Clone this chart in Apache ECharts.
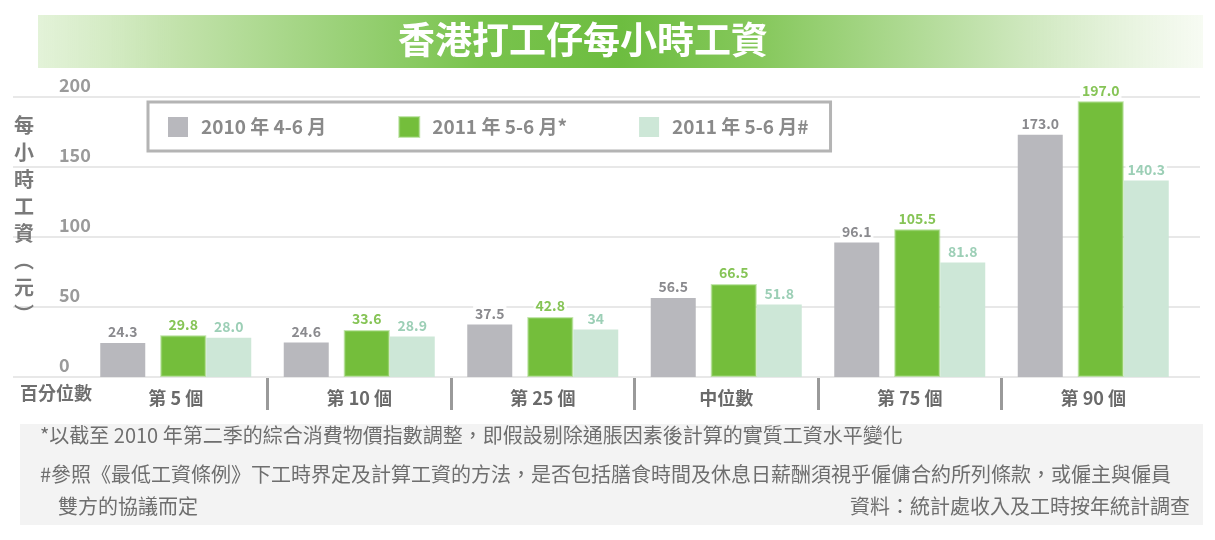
<!DOCTYPE html>
<html><head><meta charset="utf-8">
<script src="https://cdn.jsdelivr.net/npm/echarts@6/dist/echarts.min.js"></script>
<style>html,body{margin:0;padding:0;background:#fff}#c{width:1215px;height:540px}</style>
</head><body><div id="c"></div>
<script>
var categories = ['第 5 個', '第 10 個', '第 25 個', '中位數', '第 75 個', '第 90 個'];
var series2010 = ['24.3', '24.6', '37.5', '56.5', '96.1', '173.0'];
var series2011a = ['29.8', '33.6', '42.8', '66.5', '105.5', '197.0'];
var series2011b = ['28.0', '28.9', '34', '51.8', '81.8', '140.3'];
var seriesNames = ['2010 年 4-6 月', '2011 年 5-6 月*', '2011 年 5-6 月#'];
var yTicks = [0, 50, 100, 150, 200];
var titleText = '香港打工仔每小時工資';
var yTitle = '每\n小\n時\n工\n資\n︵\n元\n︶';
var xTitle = '百分位數';
var notes = [
  '*以截至 2010 年第二季的綜合消費物價指數調整，即假設剔除通脹因素後計算的實質工資水平變化',
  '#參照《最低工資條例》下工時界定及計算工資的方法，是否包括膳食時間及休息日薪酬須視乎僱傭合約所列條款，或僱主與僱員',
  '雙方的協議而定'
];
var source = '資料：統計處收入及工時按年統計調查';

var FONT = '"Noto Sans CJK TC", "Noto Sans", sans-serif';
var chart = echarts.init(document.getElementById('c'));
var colors = ['#b8b8bd', '#74be3b', '#cde7d7'];
var labelColors = ['#8a8a8e', '#86c456', '#9ccfb6'];

function lbl(i) {
  return {
    show: true, position: 'top', distance: 3,
    color: labelColors[i], fontSize: 14, fontFamily: FONT, fontWeight: 'bold',
    backgroundColor: 'rgba(255,255,255,0.85)', padding: [1, 2],
    formatter: function (p) { return p.data; }
  };
}

var option = {
  animation: false,
  textStyle: { fontFamily: FONT },
  graphic: [
    { type: 'rect', z: 0, shape: { x: 38, y: 15, width: 1165, height: 53 },
      style: { fill: new echarts.graphic.LinearGradient(0, 0, 1, 0, [
        { offset: 0, color: 'rgba(215,237,200,0.7)' },
        { offset: 0.12, color: '#c2e2ab' },
        { offset: 0.38, color: '#79c34d' },
        { offset: 0.5, color: '#6dbd40' },
        { offset: 0.62, color: '#86c85c' },
        { offset: 0.85, color: '#cfe8bf' },
        { offset: 1, color: 'rgba(245,250,240,0.8)' }
      ]) } },
    { type: 'text', z: 5, left: 398, top: 21,
      style: { text: titleText, fill: '#ffffff', font: 'bold 37px ' + FONT,
        shadowColor: 'rgba(60,120,30,0.5)', shadowBlur: 3 } },
    { type: 'text', z: 5, left: 14, top: 112,
      style: { text: yTitle, fill: '#7a7a7a', font: 'bold 20px ' + FONT, lineHeight: 27 } },
    { type: 'text', z: 5, left: 20, top: 384,
      style: { text: xTitle, fill: '#707070', font: 'bold 18px ' + FONT } },
    { type: 'rect', z: 0, shape: { x: 20, y: 424, width: 1183, height: 101 },
      style: { fill: '#f3f3f3' } },
    { type: 'text', z: 5, left: 40, top: 425,
      style: { text: notes[0], fill: '#6e6e6e', font: '20px ' + FONT } },
    { type: 'text', z: 5, left: 40, top: 464,
      style: { text: notes[1], fill: '#6e6e6e', font: '20px ' + FONT } },
    { type: 'text', z: 5, left: 58, top: 496,
      style: { text: notes[2], fill: '#6e6e6e', font: '20px ' + FONT } },
    { type: 'text', z: 5, right: 25, top: 496,
      style: { text: source, fill: '#6e6e6e', font: '20px ' + FONT } }
  ],
  legend: {
    data: seriesNames, left: 148, top: 102,
    borderColor: '#b4b4b4', borderWidth: 3, backgroundColor: '#fff',
    padding: [14, 22, 13, 20], itemGap: 72, itemWidth: 20, itemHeight: 20,
    icon: 'rect', selectedMode: false,
    textStyle: { color: '#8a8a8a', fontSize: 19, fontFamily: FONT, fontWeight: 'bold', padding: [0, 0, 0, 8] }
  },
  grid: [
    { left: 84, right: 30, top: 97, bottom: 163 },
    { left: 13, right: 15, top: 97, bottom: 163 },
    { left: 267.5, right: 213.5, top: 377, bottom: 162 }
  ],
  xAxis: [
    { type: 'category', gridIndex: 0, data: categories,
      axisLine: { show: false }, axisTick: { show: false },
      axisLabel: { color: '#6a6a6a', fontSize: 18, fontWeight: 'bold', margin: 12, fontFamily: FONT } },
    { type: 'value', gridIndex: 1, show: false, min: 0, max: 1 },
    { type: 'category', gridIndex: 2, data: categories.slice(1), boundaryGap: false,
      axisLine: { show: false }, axisLabel: { show: false },
      axisTick: { show: true, interval: 0, length: 32, lineStyle: { color: '#9a9a9a', width: 3 } } }
  ],
  yAxis: [
    { type: 'value', gridIndex: 0, min: 0, max: 200, interval: 50, show: false },
    { type: 'value', gridIndex: 1, min: yTicks[0], max: yTicks[yTicks.length - 1], interval: 50,
      axisLine: { show: false }, axisTick: { show: false },
      splitLine: { lineStyle: { color: '#e8e8e8', width: 2 } },
      axisLabel: { inside: true, margin: 46, verticalAlign: 'bottom', color: '#9a9a9a',
        fontSize: 18, fontWeight: 'bold', fontFamily: FONT, padding: [0, 0, 3, 0] } },
    { type: 'value', gridIndex: 2, show: false }
  ],
  series: [
    { name: seriesNames[0], type: 'bar', data: series2010, barWidth: 45, barGap: '0%',
      itemStyle: { color: colors[0] }, label: lbl(0) },
    { name: 'gap', type: 'bar', data: [], barWidth: 15, barGap: '0%' },
    { name: seriesNames[1], type: 'bar', data: series2011a, barWidth: 46, barGap: '0%',
      itemStyle: { color: colors[1], borderColor: 'rgba(150,210,110,0.55)', borderWidth: 2 }, label: lbl(1) },
    { name: seriesNames[2], type: 'bar', data: series2011b, barWidth: 45, barGap: '0%',
      itemStyle: { color: colors[2] }, label: lbl(2) }
  ]
};
chart.setOption(option);
</script></body></html>
